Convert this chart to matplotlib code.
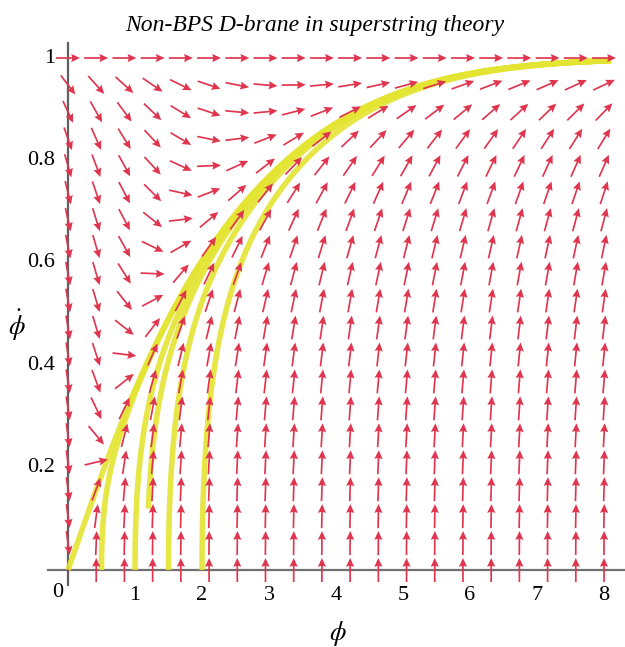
"""
Phase portrait of the rolling tachyon on a non-BPS D-brane (superstring case).
"""

import numpy as np
import matplotlib.pyplot as plt

plt.rcParams['mathtext.fontset'] = 'stix'
plt.rcParams['font.family'] = ['Liberation Serif', 'DejaVu Serif']

# Model: V = V0 / cosh(phi / sqrt(2)), c = kappa^2 V0 / 3
c_coupling = 0.1

# Vector field grid (phi, phidot)
phi_grid = np.linspace(0, 8, 20)
phidot_grid = np.linspace(0, 1, 20)

# Starting points of the drawn trajectories (phi0, phidot0)
start_phi = [1e-4, 0.5, 1.0, 1.5, 2.0, 1.2]
start_phidot = [0.377e-4, 0.0, 0.0, 0.0, 0.0, 0.12]
phi_stop = 8.1

x_ticks = [1, 2, 3, 4, 5, 6, 7, 8]
y_ticks = [0.2, 0.4, 0.6, 0.8, 1]
y_tick_labels = ['0.2', '0.4', '0.6', '0.8', '1']

# Plot range in pixels -> data (axes fill the whole figure)
x_lo, x_hi = -1.015, 8.313
y_lo, y_hi = -0.1504, 1.1133


def accel(phi, p):
    s = np.sqrt(2.0)
    g = np.sqrt(np.clip(1 - p**2, 1e-12, None))
    hub = np.sqrt(c_coupling / (np.cosh(phi / s) * g))
    return (1 - p**2) * (np.tanh(phi / s) / s - 3 * hub * p)


def trajectory(phi0, p0, dt=0.01):
    xs, ys = [phi0], [p0]
    x, p = phi0, p0
    for _ in range(200000):
        if x >= phi_stop:
            break
        k1x, k1p = p, accel(x, p)
        k2x, k2p = p + dt/2*k1p, accel(x + dt/2*k1x, p + dt/2*k1p)
        k3x, k3p = p + dt/2*k2p, accel(x + dt/2*k2x, p + dt/2*k2p)
        k4x, k4p = p + dt*k3p, accel(x + dt*k3x, p + dt*k3p)
        x += dt/6*(k1x + 2*k2x + 2*k3x + k4x)
        p += dt/6*(k1p + 2*k2p + 2*k3p + k4p)
        p = min(p, 0.999999)
        xs.append(x)
        ys.append(p)
    return np.array(xs), np.array(ys)


fig = plt.figure(figsize=(6.25, 6.47), dpi=100)
ax = fig.add_axes([0, 0, 1, 1])
ax.set_xlim(x_lo, x_hi)
ax.set_ylim(y_lo, y_hi)
ax.axis('off')

# Axis lines
ax.plot([-0.3, x_hi], [0, 0], color='#707070', lw=1.6, zorder=1)
ax.plot([0, 0], [-0.03, 1.03], color='#606060', lw=1.6, zorder=1)

# Trajectories
for a, b in zip(start_phi, start_phidot):
    tx, ty = trajectory(a, b)
    ax.plot(tx, ty, color='#e4e432', lw=4.0, alpha=0.9,
            solid_capstyle='butt', zorder=2)

# Vector field, arrows of equal screen length
X, Y = np.meshgrid(phi_grid, phidot_grid)
U = Y
V = accel(X, Y)
# direction in screen space
sx = 625 / (x_hi - x_lo)
sy = 647 / (y_hi - y_lo)
Us, Vs = U * sx, V * sy
norm = np.hypot(Us, Vs)
norm[norm == 0] = 1
ax.quiver(X, Y, Us / norm, Vs / norm, angles='uv', pivot='middle',
          scale_units='dots', scale=1/24, units='dots', width=1.7,
          headwidth=4.8, headlength=5.2, headaxislength=4.6,
          color='#df354e', zorder=3)

# Tick labels
for t in x_ticks:
    ax.text(t, -0.049, str(t), ha='center', va='center', fontsize=16)
ax.text(-0.15, -0.043, '0', ha='center', va='center', fontsize=16)
for t, lab in zip(y_ticks, y_tick_labels):
    ax.text(-0.19, t, lab, ha='right', va='center', fontsize=16)

ax.text((338 - 68) / 67, (570 - 634) / 512, r'$\phi$', ha='center',
        va='center', fontsize=19)
ax.text((17 - 68) / 67, (570 - 325) / 512, r'$\dot{\phi}$', ha='center',
        va='center', fontsize=19)

fig.text(315 / 625, 1 - 25 / 647, 'Non-BPS D-brane in superstring theory',
         ha='center', va='center', fontsize=17, style='italic')

plt.savefig('out.png', dpi=100)
